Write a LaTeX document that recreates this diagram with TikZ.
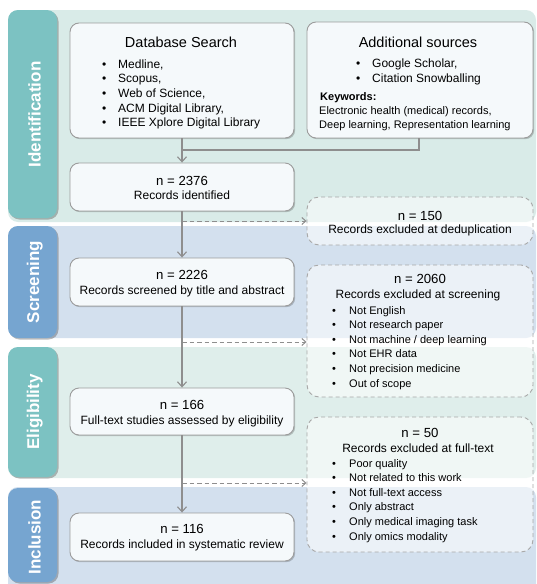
\documentclass[tikz,border=0pt]{standalone}
\usepackage{fontspec}
\setmainfont{Liberation Sans}
\usetikzlibrary{arrows.meta,shadows}
\definecolor{tealtab}{HTML}{7CC2C2}
\definecolor{tealband}{HTML}{D9EBE8}
\definecolor{bluetab}{HTML}{76A5D0}
\definecolor{blueband}{HTML}{D3E0EE}
\definecolor{boxfill}{HTML}{F5F9FB}
\definecolor{lineg}{HTML}{8E8E8E}
\definecolor{borderg}{HTML}{9C9C9C}
\definecolor{dashg}{HTML}{A8A8A8}
\tikzset{
  tabbox/.style={rounded corners=10pt, drop shadow={shadow xshift=1.5pt, shadow yshift=-1.5pt, opacity=0.25, fill=black}},
  solidbox/.style={draw=borderg, line width=0.9pt, fill=boxfill, rounded corners=9pt, inner sep=0pt,
     drop shadow={shadow xshift=1.2pt, shadow yshift=-1.2pt, opacity=0.2, fill=black}},
  dashbox/.style={draw=dashg, line width=0.9pt, dash pattern=on 4pt off 3pt, fill=white, fill opacity=0.55, rounded corners=12pt, inner sep=0pt},
  conn/.style={draw=lineg, line width=1.2pt, -{Straight Barb[length=5pt,width=9pt,line width=1.1pt]}},
  plainline/.style={draw=lineg, line width=1.2pt},
  dconn/.style={draw=lineg, line width=1pt, dash pattern=on 4.5pt off 3pt, -{Straight Barb[length=4pt,width=7pt,line width=1pt]}},
  tablabel/.style={text=white, font=\bfseries\fontsize{17}{20}\selectfont, rotate=90, anchor=base, inner sep=0pt},
  title/.style={font=\fontsize{14.5}{17}\selectfont, anchor=base, inner sep=0pt},
  num/.style={font=\fontsize{13.2}{16}\selectfont, anchor=base, inner sep=0pt},
  body/.style={font=\fontsize{12}{14}\selectfont, anchor=base, inner sep=0pt},
  lbody/.style={font=\fontsize{12}{14}\selectfont, anchor=base west, inner sep=0pt},
  rbody/.style={font=\fontsize{11}{13}\selectfont, anchor=base west, inner sep=0pt},
  kbody/.style={font=\fontsize{11}{13}\selectfont, anchor=base west, inner sep=0pt},
}
\begin{document}
\begin{tikzpicture}[x=1pt,y=-1pt]
\useasboundingbox (0,0) rectangle (536,584);
\begin{scope}
\clip (0,0) rectangle (536,584);
% bands
\fill[tealband, rounded corners=10pt] (8,10) rectangle (536,222);
\fill[blueband, rounded corners=10pt] (8,226) rectangle (536,338);
\fill[tealband!85!white, rounded corners=10pt] (8,347) rectangle (536,478);
\fill[blueband, rounded corners=10pt] (8,487) rectangle (536,600);
% tabs
\fill[tealtab, tabbox] (8,10) rectangle (57,218);
\fill[bluetab, tabbox] (8,226) rectangle (57,338);
\fill[tealtab, tabbox] (8,347) rectangle (57,477);
\fill[bluetab, tabbox] (8,488) rectangle (57,582);
\end{scope}
\node[tablabel] (tIdent) at (40.5,114.5) {Identification};
\node[tablabel] (tScreen) at (39,282) {Screening};
\node[tablabel] (tElig) at (39,412) {Eligibility};
\node[tablabel] (tIncl) at (40.5,537) {Inclusion};

% boxes
\node[solidbox, minimum width=224pt, minimum height=115pt] (db) at (182,80.5) {};
\node[solidbox, minimum width=226pt, minimum height=116pt] (add) at (420,80) {};
\node[solidbox, minimum width=224pt, minimum height=48pt] (ident) at (182,187) {};
\node[dashbox, minimum width=226pt, minimum height=48pt] (dedup) at (420,221) {};
\node[solidbox, minimum width=224pt, minimum height=48pt] (screen) at (182,282) {};
\node[dashbox, minimum width=226pt, minimum height=132pt] (exscr) at (420,331) {};
\node[solidbox, minimum width=224pt, minimum height=47pt] (elig) at (182,411.5) {};
\node[dashbox, minimum width=226pt, minimum height=135pt] (exft) at (420,484.5) {};
\node[solidbox, minimum width=224pt, minimum height=48pt] (incl) at (182,537) {};

% Database search text
\node[title] (dbT) at (181,47) {Database Search};
\foreach \t [count=\i] in {{Medline,}, {Scopus,}, {Web of Science,}, {ACM Digital Library,}, {IEEE Xplore Digital Library}}{
  \node[lbody] (dbB\i) at (102,{68+14.7*(\i-1)}) {\textbullet};
  \node[lbody] (dbI\i) at (118,{68+14.7*(\i-1)}) {\t};
}
% Additional sources text
\node[title] (addT) at (418,47) {Additional sources};
\node[lbody] (addB1) at (356,67) {\textbullet};
\node[lbody] (addI1) at (372,67) {Google Scholar,};
\node[lbody] (addB2) at (356,82) {\textbullet};
\node[lbody] (addI2) at (372,82) {Citation Snowballing};
\node[kbody] (kw) at (320,100) {\bfseries Keywords:};
\node[kbody] (kw1) at (319,114) {Electronic health (medical) records,};
\node[kbody] (kw2) at (319,128) {Deep learning, Representation learning};

% count boxes
\node[num] (identN) at (182,185) {n = 2376};
\node[body] (identT) at (182,199) {Records identified};
\node[num] (dedupN) at (420,220) {n = 150};
\node[body] (dedupT) at (420,233) {Records excluded at deduplication};
\node[num] (screenN) at (182,279) {n = 2226};
\node[body] (screenT) at (182,294) {Records screened by title and abstract};
\node[num] (exscrN) at (420,283) {n = 2060};
\node[body] (exscrT) at (418,298) {Records excluded at screening};
\foreach \t [count=\i] in {Not English, Not research paper, Not machine / deep learning, Not EHR data, Not precision medicine, Out of scope}{
  \node[rbody] (esB\i) at (332,{314+14.6*(\i-1)}) {\textbullet};
  \node[rbody] (esI\i) at (349,{314+14.6*(\i-1)}) {\t};
}
\node[num] (eligN) at (182,409) {n = 166};
\node[body] (eligT) at (182,424) {Full-text studies assessed by eligibility};
\node[num] (exftN) at (420,437) {n = 50};
\node[body] (exftT) at (418,452) {Records excluded at full-text};
\foreach \t [count=\i] in {Poor quality, Not related to this work, Not full-text access, Only abstract, Only medical imaging task, Only omics modality}{
  \node[rbody] (efB\i) at (332,{467+14.6*(\i-1)}) {\textbullet};
  \node[rbody] (efI\i) at (349,{467+14.6*(\i-1)}) {\t};
}
\node[num] (inclN) at (182,533) {n = 116};
\node[body] (inclT) at (182,548) {Records included in systematic review};

% connectors
\coordinate (j1) at (182,150);
\coordinate (d1) at (182,221);
\coordinate (d2) at (182,342);
\coordinate (d3) at (182,483);
\draw[conn] (db.south) -- (ident.north);
\draw[plainline] ([xshift=-1pt]add.south) |- (j1);
\draw[conn] (ident.south) -- (screen.north);
\draw[conn] (screen.south) -- (elig.north);
\draw[conn] (elig.south) -- (incl.north);
\draw[dconn] (d1) -- (dedup.west);
\draw[dconn] (d2) -- (exscr.west |- d2);
\draw[dconn] (d3) -- (exft.west |- d3);
\end{tikzpicture}
\end{document}
